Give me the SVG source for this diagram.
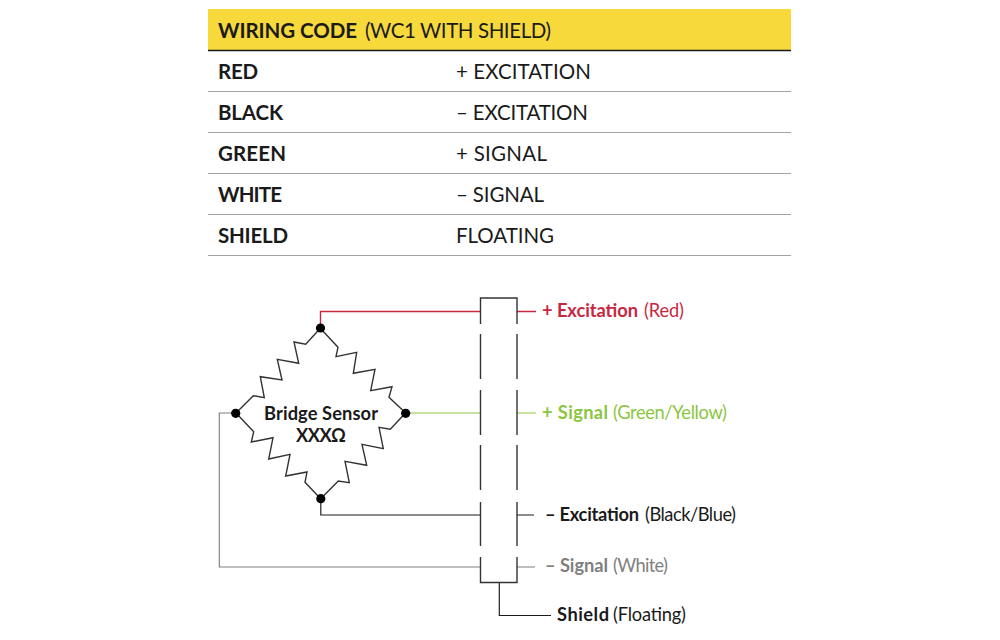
<svg xmlns="http://www.w3.org/2000/svg" width="1000" height="640" viewBox="0 0 1000 640">
<style>
text{font-family:"Lato","Liberation Sans",sans-serif;fill:#1a1a1a}
.t{font-size:20.500px}
.b{font-weight:700}
.l{font-size:18.300px}
.w{fill:none;stroke-width:1.150}
.red{stroke-width:1.400}
.r{fill:none;stroke:#333;stroke-width:1.400;stroke-linejoin:miter}
.rule{stroke:#a3a3a3;stroke-width:1.200}
.s{fill:none;stroke:#333;stroke-width:1.400}
</style>
<g id="table">
<rect x="208" y="9" width="583" height="41" fill="#f7d93c"/>
<line x1="208" y1="50.500" x2="791" y2="50.500" stroke="#1a1a1a" stroke-width="1.300"/>
<line class="rule" x1="208" y1="91.500" x2="791" y2="91.500"/>
<line class="rule" x1="208" y1="132.500" x2="791" y2="132.500"/>
<line class="rule" x1="208" y1="173.500" x2="791" y2="173.500"/>
<line class="rule" x1="208" y1="214.500" x2="791" y2="214.500"/>
<line class="rule" x1="208" y1="255.500" x2="791" y2="255.500"/>
<text class="t" y="38"><tspan class="b" x="218" textLength="139">WIRING CODE</tspan><tspan x="365" textLength="186">(WC1 WITH SHIELD)</tspan></text>
<text class="t b" x="218" y="79" textLength="40">RED</text><text class="t" x="456" y="79" textLength="135">+ EXCITATION</text>
<text class="t b" x="218" y="120" textLength="65">BLACK</text><text class="t" x="456" y="120" textLength="132">– EXCITATION</text>
<text class="t b" x="218" y="161" textLength="68">GREEN</text><text class="t" x="456" y="161" textLength="91">+ SIGNAL</text>
<text class="t b" x="218" y="202" textLength="64">WHITE</text><text class="t" x="456" y="202" textLength="88">– SIGNAL</text>
<text class="t b" x="218" y="243" textLength="70">SHIELD</text><text class="t" x="456" y="243" textLength="98">FLOATING</text>
</g>
<g id="connectors">
<path class="w red" stroke="#c8283f" d="M320.500 328V311.500H480M517 311.500H536"/>
<path class="w" stroke="#8cc63f" d="M405.500 413H480M517 413H536"/>
<path class="w" stroke="#1a1a1a" d="M320.800 498.500V515H480M517 515H534"/>
<path class="w" stroke="#808080" d="M236 413H219.300V567H480M517 567H535"/>
<path class="w" stroke="#1a1a1a" d="M499.300 582V615.500H551"/>
</g>
<g id="shield-box">
<path class="s" d="M480.500 324V298H517V324M480.500 334V379M517 334V379M480.500 390V435M517 390V435M480.500 445V490M517 445V490M480.500 502V546M517 502V546M480.500 557V582.500H517V557"/>
</g>
<g id="bridge-sensor">
<path class="r" d="M320.300 328.300L305.700 344.300L294 342L298.700 363.300L277.300 359.300L282 380L260.300 376.700L264.300 397.700L253.300 395.700L236 413"/>
<path class="r" d="M320.300 328.300L338 347.300L336 356.700L356.700 352.300L353.300 373.300L375 369.300L370.700 390.700L392 386.700L389 397.300L405.700 413"/>
<path class="r" d="M320.700 498.700L305 482.300L307 472L285.700 476L290 454.300L268.700 459L273 437.700L251.300 442L253.700 431.700L236 413"/>
<path class="r" d="M320.700 498.700L338.300 481L349.300 482.700L345 461.300L366.700 465.300L362 444.300L383.300 448.700L379 427.300L390.300 429.300L405.500 413"/>
<circle cx="320.500" cy="328" r="4.600" fill="#000"/>
<circle cx="235.700" cy="413.300" r="4.600" fill="#000"/>
<circle cx="405.700" cy="413.300" r="4.600" fill="#000"/>
<circle cx="320.800" cy="498.700" r="4.600" fill="#000"/>
<text class="l b" x="264" y="420" textLength="114">Bridge Sensor</text>
<text class="l b" x="296" y="442" textLength="50">XXXΩ</text>
</g>
<g id="labels">
<text class="l" y="316.500" style="fill:#c8283f"><tspan class="b" x="542" textLength="96">+ Excitation</tspan><tspan x="644" textLength="40">(Red)</tspan></text>
<text class="l" y="418.500" style="fill:#8cc63f"><tspan class="b" x="542" textLength="66">+ Signal</tspan><tspan x="613" textLength="114">(Green/Yellow)</tspan></text>
<text class="l" y="520.500"><tspan class="b" x="545" textLength="94">– Excitation</tspan><tspan x="645" textLength="91">(Black/Blue)</tspan></text>
<text class="l" y="571.500" style="fill:#808080"><tspan class="b" x="545" textLength="63">– Signal</tspan><tspan x="613" textLength="55">(White)</tspan></text>
<text class="l" y="620.500"><tspan class="b" x="557" textLength="52">Shield</tspan><tspan x="613" textLength="73">(Floating)</tspan></text>
</g>
</svg>
